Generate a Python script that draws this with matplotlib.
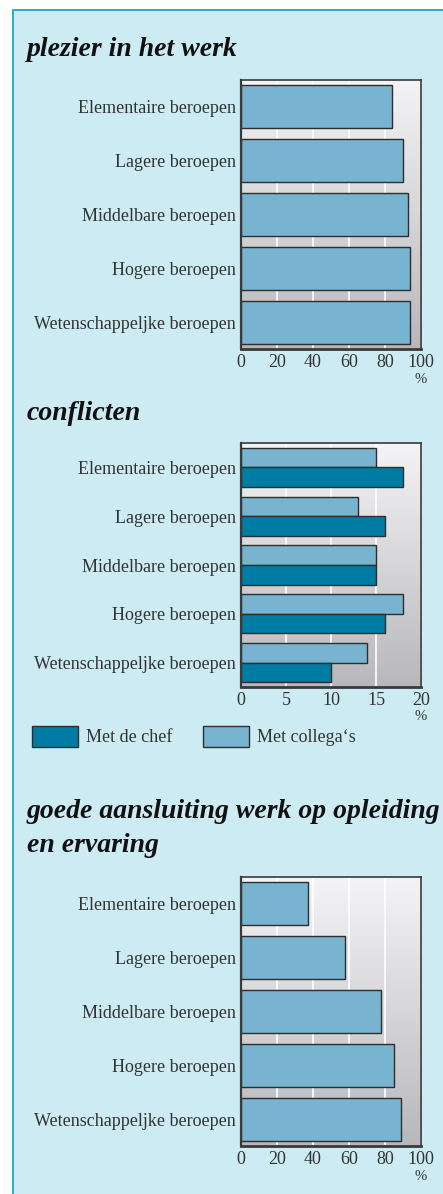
import numpy as np
import matplotlib
matplotlib.use("Agg")
import matplotlib.pyplot as plt
from matplotlib.patches import Rectangle, Patch

# data
categories = ["Elementaire beroepen", "Lagere beroepen", "Middelbare beroepen",
              "Hogere beroepen", "Wetenschappeljke beroepen"]
plezier = [84, 90, 93, 94, 94]
conflict_chef = [18, 16, 15, 16, 10]
conflict_collegas = [15, 13, 15, 18, 14]
aansluiting = [37, 58, 78, 85, 89]

ticks_100 = [0, 20, 40, 60, 80, 100]
ticks_20 = [0, 5, 10, 15, 20]

W, H = 443, 1194
BG = "#CDEBF3"
EDGE_BLUE = "#1FA3CC"
LIGHT = "#78B4D0"
DARK = "#007CA4"
TXT = "#333333"

plt.rcParams["font.family"] = ["Liberation Serif", "DejaVu Serif"]

fig = plt.figure(figsize=(W / 100, H / 100), dpi=100)
fig.patch.set_facecolor("white")

# light blue panel with a blue border on top and left
fig.patches.append(Rectangle((12.5 / W, -0.05), 1.2, 1.05 - 9.5 / H,
                             transform=fig.transFigure, facecolor=BG,
                             edgecolor=EDGE_BLUE, lw=1.3, zorder=-10))

grad = np.linspace(0, 1, 256).reshape(-1, 1)
cmap = matplotlib.colors.LinearSegmentedColormap.from_list("g", ["#F4F4F6", "#B8B8BC"])


def make_ax(top, bottom):
    ax = fig.add_axes([241 / W, 1 - bottom / H, 180 / W, (bottom - top) / H])
    ax.imshow(grad, extent=[0, 1, 0, 1], transform=ax.transAxes, aspect="auto",
              cmap=cmap, zorder=0)
    ax.xaxis.grid(True, color="white", lw=1.2)
    ax.set_axisbelow(True)
    for side in ["top", "right", "left"]:
        ax.spines[side].set_color("#3a3a3a")
        ax.spines[side].set_linewidth(1.2)
    ax.spines["bottom"].set_color("#3a3a3a")
    ax.spines["bottom"].set_linewidth(2)
    ax.spines["left"].set_linewidth(1.6)
    ax.tick_params(length=0, labelsize=13, labelcolor=TXT, pad=3.5)
    ax.set_ylim(4.5, -0.5)
    ax.set_yticks(range(len(categories)))
    ax.set_yticklabels(categories)
    ax.annotate("%", xy=(1, 0), xycoords="axes fraction", xytext=(0, -30),
                textcoords="offset pixels", ha="center", va="center",
                fontsize=10.5, color=TXT)
    return ax


def title(y, s):
    fig.text(27 / W, 1 - y / H, s, fontsize=20, fontweight="bold", fontstyle="italic",
             color="#111111", va="baseline", ha="left")


y = np.arange(len(categories))

# plezier in het werk
title(56, "plezier in het werk")
ax1 = make_ax(80, 349)
ax1.barh(y, plezier, height=0.8, color=LIGHT, edgecolor="#2e2e2e", lw=1, zorder=2)
ax1.set_xlim(0, 100)
ax1.set_xticks(ticks_100)

# conflicten
title(420, "conflicten")
ax2 = make_ax(443, 687)
b_col = ax2.barh(y - 0.2, conflict_collegas, height=0.4, color=LIGHT,
                 edgecolor="#2e2e2e", lw=1, zorder=2)
b_chef = ax2.barh(y + 0.2, conflict_chef, height=0.4, color=DARK,
                  edgecolor="#2e2e2e", lw=1, zorder=2)
ax2.set_xlim(0, 20)
ax2.set_xticks(ticks_20)

handles = [Patch(facecolor=DARK, edgecolor="#2e2e2e", lw=1),
           Patch(facecolor=LIGHT, edgecolor="#2e2e2e", lw=1)]
fig.legend(handles, ["Met de chef", "Met collega\u2018s"], loc="upper left",
           bbox_to_anchor=(32 / W, 1 - 726 / H), ncol=2, frameon=False,
           fontsize=13, borderpad=0, borderaxespad=0, handlelength=2.55,
           handleheight=1.4, handletextpad=0.45, columnspacing=1.7,
           labelcolor=TXT)

# goede aansluiting
title(818, "goede aansluiting werk op opleiding")
title(852, "en ervaring")
ax3 = make_ax(877, 1146)
ax3.barh(y, aansluiting, height=0.8, color=LIGHT, edgecolor="#2e2e2e", lw=1, zorder=2)
ax3.set_xlim(0, 100)
ax3.set_xticks(ticks_100)

fig.savefig("out.png", dpi=100)
